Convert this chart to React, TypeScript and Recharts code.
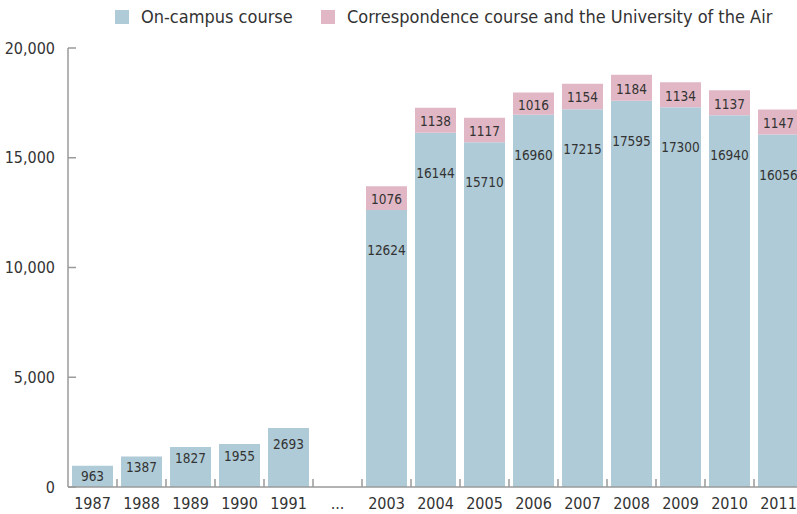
import React from "react";
import { BarChart, Bar, XAxis, YAxis, Legend, LabelList } from "recharts";

// ---- data ----
const years = ["1987", "1988", "1989", "1990", "1991", "...", "2003", "2004", "2005", "2006", "2007", "2008", "2009", "2010", "2011"];
const onCampus = [963, 1387, 1827, 1955, 2693, null, 12624, 16144, 15710, 16960, 17215, 17595, 17300, 16940, 16056];
const correspondence = [null, null, null, null, null, null, 1076, 1138, 1117, 1016, 1154, 1184, 1134, 1137, 1147];
const yTicks = [0, 5000, 10000, 15000, 20000];

const data = years.map((year, i) => ({
  year,
  onCampus: onCampus[i],
  correspondence: correspondence[i],
}));

// ---- styles ----
const FONT = '"Liberation Sans Narrow", "DejaVu Sans Condensed", "Roboto Condensed", sans-serif';
const BLUE = "#afcbd7";
const PINK = "#e1b7c5";
const AXIS = "#9a9a9a";
const TEXT = "#333333";
const LABEL_SIZE = 13.5;

const W = 810;
const H = 514;
const LEFT = 68;
const RIGHT = 7;
const LEGEND_H = 36;
const BAND = (W - LEFT - RIGHT) / years.length;

// tick gets y = axis + 8 (default tickSize 6 + margin 2)
function XTick(props: any) {
  const { x, y, payload, index } = props;
  const axisY = y - 8;
  return (
    <g>
      {index < years.length - 1 ? (
        <line x1={x + BAND / 2} x2={x + BAND / 2} y1={axisY - 8} y2={axisY} stroke={AXIS} strokeWidth={1.5} />
      ) : null}
      <text x={x} y={axisY + 22} textAnchor="middle" fill={TEXT} fontSize={16} fontFamily={FONT}>
        {payload.value}
      </text>
    </g>
  );
}

function blueLabel(props: any) {
  const { x, y, width, height, value } = props;
  if (value == null) return null;
  const off = Math.min(40, Math.max(10, height * 0.28));
  return (
    <text x={x + width / 2} y={y + off} textAnchor="middle" dominantBaseline="central" fill={TEXT} fontSize={LABEL_SIZE} fontFamily={FONT}>
      {value}
    </text>
  );
}

function pinkLabel(props: any) {
  const { x, y, width, height, value } = props;
  if (value == null) return null;
  return (
    <text x={x + width / 2} y={y + height / 2 + 1} textAnchor="middle" dominantBaseline="central" fill={TEXT} fontSize={LABEL_SIZE} fontFamily={FONT}>
      {value}
    </text>
  );
}

function LegendBox() {
  const item = (color: string, label: string, left: number) => (
    <div style={{ position: "absolute", left, top: 0, display: "flex", alignItems: "center" }}>
      <span style={{ width: 14, height: 14, background: color, display: "inline-block", marginRight: 12 }} />
      <span style={{ fontSize: 18, color: TEXT, fontFamily: FONT, whiteSpace: "nowrap" }}>{label}</span>
    </div>
  );
  return (
    <div style={{ position: "relative", height: LEGEND_H }}>
      {item(BLUE, "On-campus course", 115)}
      {item(PINK, "Correspondence course and the University of the Air", 321)}
    </div>
  );
}

export default function App() {
  return (
    <div style={{ position: "absolute", left: 0, top: 0, width: 797, height: H, overflow: "hidden", background: "#fff" }}>
      <BarChart width={W} height={H} data={data} margin={{ top: 48 - LEGEND_H, right: RIGHT, bottom: 0, left: 0 }} barCategoryGap={4}>
        <Legend verticalAlign="top" height={LEGEND_H} content={() => <LegendBox />} wrapperStyle={{ top: 6, left: 0, width: W }} />
        <XAxis
          dataKey="year"
          axisLine={{ stroke: AXIS, strokeWidth: 1.5 }}
          tickLine={false}
          tick={<XTick />}
          interval={0}
          height={27}
        />
        <YAxis
          width={LEFT}
          domain={[0, 20000]}
          ticks={yTicks}
          tickFormatter={(v: number) => v.toLocaleString("en-US")}
          axisLine={{ stroke: AXIS, strokeWidth: 1.5 }}
          tickLine={{ stroke: AXIS, strokeWidth: 1.5 }}
          tickSize={-8}
          tickMargin={21}
          tick={{ fill: TEXT, fontSize: 16, fontFamily: FONT }}
        />
        <Bar dataKey="onCampus" stackId="a" fill={BLUE} isAnimationActive={false}>
          <LabelList dataKey="onCampus" content={blueLabel} />
        </Bar>
        <Bar dataKey="correspondence" stackId="a" fill={PINK} isAnimationActive={false}>
          <LabelList dataKey="correspondence" content={pinkLabel} />
        </Bar>
      </BarChart>
    </div>
  );
}
